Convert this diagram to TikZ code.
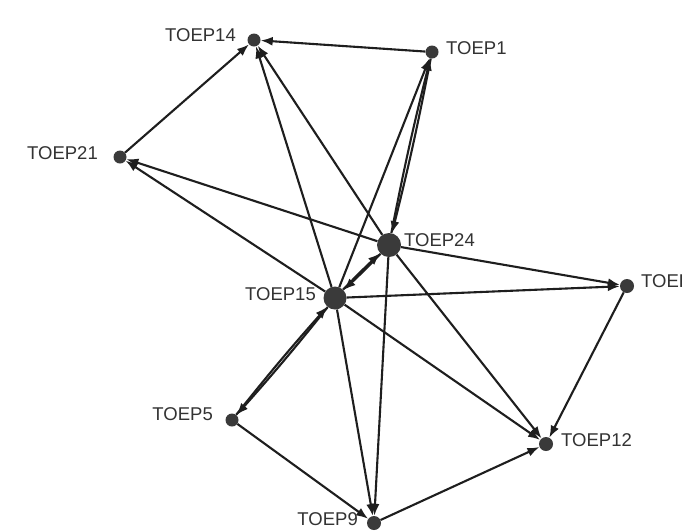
\documentclass[tikz,border=0pt]{standalone}
\usepackage{fontspec}
\setmainfont{Liberation Sans}
\usetikzlibrary{arrows.meta}
\definecolor{nodegray}{HTML}{3A3A3A}
\definecolor{edgecol}{HTML}{1E1E1E}
\definecolor{labelgray}{HTML}{333333}
\begin{document}
\begin{tikzpicture}[x=1pt,y=-1pt,
  vtx/.style={circle,fill=nodegray,inner sep=0pt,minimum size=13pt},
  bigvtx/.style={circle,fill=nodegray,inner sep=0pt,minimum size=24pt},
  lbl/.style={text=labelgray,font=\fontsize{18.5}{18.5}\selectfont,inner sep=0pt},
  edge/.style={draw=edgecol,line width=2.1pt,-{Latex[length=12pt,width=9pt]}},
  pair/.style={edge,bend left=1.5}]
\useasboundingbox[fill=white] (0,0) rectangle (682,531);
% vertices
\node[vtx] (t14) at (254,40) {};
\node[vtx] (t1) at (432,52) {};
\node[vtx] (t21) at (120,157) {};
\node[bigvtx] (t24) at (389,245) {};
\node[bigvtx,minimum size=23pt] (t15) at (335,298) {};
\node[vtx,minimum size=14pt] (tr) at (627,286) {};
\node[vtx] (t5) at (232,420) {};
\node[vtx,minimum size=14pt] (t12) at (546,444) {};
\node[vtx,minimum size=14pt] (t9) at (374,523) {};
% labels
\node[lbl,anchor=east] (l14) at (236,35) {TOEP14};
\node[lbl,anchor=west] (l1) at (446,48) {TOEP1};
\node[lbl,anchor=east] (l21) at (98,153) {TOEP21};
\node[lbl,anchor=west] (l24) at (404,240) {TOEP24};
\node[lbl,anchor=east] (l15) at (316,294) {TOEP15};
\node[lbl,anchor=west] (lr) at (641,281) {TOEP};
\node[lbl,anchor=east] (l5) at (213,414) {TOEP5};
\node[lbl,anchor=west] (l12) at (561,440) {TOEP12};
\node[lbl,anchor=east] (l9) at (358,519) {TOEP9};
% edges
\draw[edge] (t1) -- (t14);
\draw[edge] (t21) -- (t14);
\draw[edge] (t15) -- (t14);
\draw[edge] (t24) -- (t14);
\draw[edge] (t24) -- (t21);
\draw[edge] (t15) -- (t21);
\draw[pair] (t24) to (t1);
\draw[pair] (t1) to (t24);
\draw[edge] (t15) -- (t1);
\draw[pair] (t15) to (t24);
\draw[pair] (t24) to (t15);
\draw[edge] (t24) -- (tr);
\draw[edge] (t15) -- (tr);
\draw[edge] (tr) -- (t12);
\draw[edge] (t24) -- (t12);
\draw[edge] (t15) -- (t12);
\draw[edge] (t9) -- (t12);
\draw[edge] (t24) -- (t9);
\draw[edge] (t15) -- (t9);
\draw[edge] (t5) -- (t9);
\draw[pair] (t15) to (t5);
\draw[pair] (t5) to (t15);
\end{tikzpicture}
\end{document}
